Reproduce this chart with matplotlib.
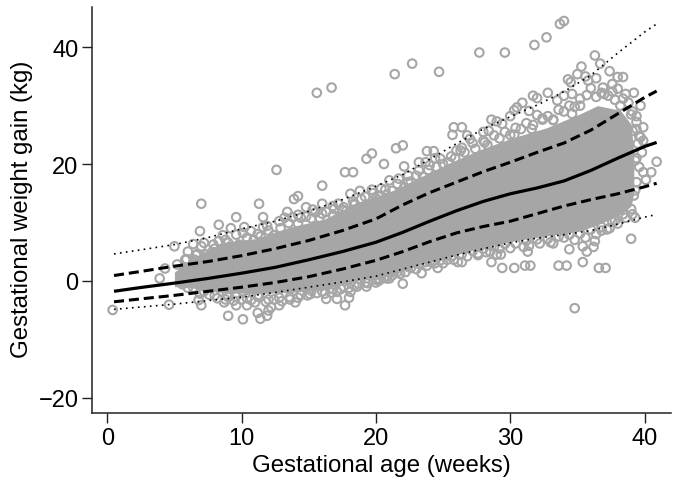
import matplotlib
matplotlib.use("Agg")
import matplotlib.pyplot as plt

# gestational age (weeks) vs weight gain (kg)
fit_x = [0.5, 2.5, 5, 7.5, 10, 12.5, 15, 17.5, 20, 22, 24, 26, 28, 30, 32, 34, 36, 38, 40, 40.9]
mean_y = [-1.8, -1.15, -0.4, 0.4, 1.3, 2.3, 3.6, 5.0, 6.6, 8.3, 10.2, 12.0, 13.6, 14.9, 15.9, 17.1, 18.9, 21, 23, 23.7]
hi_y = [0.9, 1.6, 2.5, 3.3, 4.3, 5.5, 6.9, 8.6, 10.6, 13, 15.1, 16.9, 18.7, 20.3, 22, 23.6, 25.8, 28.6, 31.4, 32.5]
lo_y = [-3.6, -3.1, -2.5, -1.8, -1.1, -0.3, 0.7, 2, 3.5, 5.0, 6.7, 8.2, 9.3, 10.2, 11.5, 12.8, 13.9, 14.9, 16.1, 16.7]
top_y = [4.6, 5.3, 6.2, 7.4, 8.9, 10.2, 11.9, 13.9, 16.2, 18.2, 20.8, 23.5, 26, 28.1, 30.1, 32.4, 35.2, 39, 42.6, 44]

bot_x = [0.5, 5, 10, 12.5, 15, 17.5, 20, 22, 24, 26, 28, 30, 32, 34, 36, 38, 40, 40.6]
bot_y = [-4.9, -4, -2.8, -2, -1.1, -0.2, 0.8, 2, 3.2, 4.4, 5.5, 6.5, 7.3, 7.9, 8.6, 9.7, 10.9, 11.2]

# solid part of the point cloud
core_x = [5, 6.2, 8.6, 11, 13.6, 16.1, 18.6, 21, 22.8, 25.3, 27.8, 30.2, 32.7, 35.2, 36.5, 38.2, 39.0, 39.2]
core_hi = [1.5, 3.7, 6.6, 7.2, 9.2, 10.5, 13.4, 15.2, 17.2, 20, 22.5, 24.5, 26.2, 28.6, 30.0, 29.2, 26.8, 22]
core_lo = [-1, -1.2, -2, -2.2, -2, -1.5, 0, 0.9, 2.4, 4, 5.6, 6.8, 7.7, 8.5, 9.6, 11.3, 12.8, 15]

# single points around the cloud
out_x = [15.6, 16.7, 12.6, 7.0, 11.3, 9.6, 11.6, 13.9, 14.2, 16.0, 13.4, 14.8, 16.0, 14.2, 15.5,
         17.7, 18.3, 19.3, 19.7, 20.6, 18.1, 18.8, 19.7, 20.4, 18.4, 17.5, 16.8,
         21.4, 22.7, 24.7, 27.7, 29.6, 31.8, 32.7, 33.7, 34.0, 36.3, 36.7, 37.4, 35.3,
         35.0, 34.3, 34.5, 35.6, 36.4, 35.8, 38.0, 38.4, 36.9, 37.6, 38.0, 39.2, 38.6, 37.3,
         39.7, 39.4, 39.9, 39.1, 39.7, 39.9, 39.8, 40.9, 40.5, 40.1, 39.3, 39.4, 39.9, 39.2, 39.0,
         32.8, 31.7, 32.0, 30.9, 30.5, 30.3, 30.0, 31.4, 28.6, 29.0, 29.4,
         25.8, 26.4, 25.7, 26.8, 27.0, 28.0, 28.4, 30.3, 31.7, 32.4, 33.2, 34.6, 35.2,
         34.0, 34.6, 33.5, 21.5, 22.0, 22.1, 23.8, 24.3, 23.2, 23.7, 24.4, 21.0, 26.0, 26.3, 25.4, 28.1, 22.4,
         34.8, 39.0, 39.3, 22.0, 23.4, 24.6, 22.6, 26.4, 26.1, 28.6, 29.4, 30.3, 31.1, 31.5, 33.6, 34.2,
         35.4, 36.6, 37.1, 34.4, 35.7, 36.2, 36.3, 35.4, 31.3, 31.4, 29.0, 29.3, 27.6, 28.2, 25.3, 23.7, 24.2,
         20.8, 21.0, 20.3, 21.4, 33.2, 34.0, 37.4, 36.8, 37.8,
         0.4, 4.6, 3.9, 4.3, 5.0, 6.9, 6.4, 7.0, 6.7, 5.9, 8.3, 9.2, 8.3, 10.1, 10.7, 11.6, 7.8,
         6.8, 7.0, 8.7, 9.0, 9.6, 9.0, 10.1, 10.4, 11.0, 11.2, 11.4, 11.9, 12.0, 12.2, 12.8, 14.0,
         15.1, 16.3, 17.1, 17.7, 18.0, 17.1, 18.1, 18.6, 19.3, 20.2]
out_y = [32.2, 33.1, 19.0, 13.2, 13.2, 10.9, 10.9, 14.0, 14.5, 16.3, 11.8, 12.6, 13.2, 11.3, 11.7,
         18.6, 18.6, 20.9, 21.8, 20.0, 14.9, 15.4, 15.6, 15.8, 13.2, 12.2, 12.8,
         35.4, 37.2, 35.8, 39.1, 39.1, 40.4, 41.7, 44.0, 44.5, 38.6, 37.2, 35.9, 36.7,
         35.4, 34.5, 34.0, 35.0, 34.7, 34.3, 34.9, 34.9, 33.1, 33.7, 32.9, 32.2, 32.0, 31.7,
         30.0, 28.2, 26.3, 25.7, 24.6, 24.0, 22.0, 20.4, 18.6, 17.3, 20.6, 16.9, 18.6, 14.6, 12.3,
         32.2, 31.7, 31.3, 30.5, 29.7, 29.2, 28.2, 29.1, 27.6, 27.3, 26.9,
         26.3, 26.3, 25.0, 24.9, 24.3, 25.5, 25.7, 25.0, 26.7, 27.6, 27.6, 28.6, 30.0,
         31.7, 32.0, 30.9, 22.7, 23.2, 19.6, 22.2, 22.2, 20.3, 20.3, 21.0, 17.2, 22.3, 22.3, 20.3, 23.7, 16.9,
         -4.7, 7.2, 10.8, -0.5, 1.3, 2.2, 2.2, 3.2, 3.2, 3.2, 2.2, 2.2, 2.6, 2.6, 2.6, 2.6,
         3.2, 2.2, 2.2, 5.4, 5.0, 5.8, 6.8, 5.9, 5.0, 6.0, 4.5, 4.5, 4.7, 4.9, 3.6, 3.2, 3.2,
         0.4, 0.4, 0.2, 1.7, 6.4, 7.4, 9.0, 8.6, 10.3,
         -5.0, -4.1, 0.4, 2.1, 5.9, 8.5, 6.3, 5.9, 4.6, 3.7, 9.6, 9.0, 6.8, 8.2, 8.5, 9.2, 4.9,
         -3.3, -4.2, -3.7, -2.8, -4.2, -6.0, -6.6, -4.2, -3.7, -5.5, -6.5, -6.0, -5.1, -4.5, -4.2, -3.7,
         -2.3, -3.1, -3.1, -4.2, -2.9, -1.9, -1.9, -1.0, -1.0, 0.0]

# points hugging the edge of the solid part
edge_x = [5.2, 5.8, 6.6, 7.2, 7.9, 8.8, 9.6, 10.4, 11.2, 12.0, 12.8, 13.5, 14.4, 15.2, 16.0, 16.8, 17.6, 18.4, 19.2, 20.0,
          20.8, 21.6, 22.4, 23.2, 24.0, 24.8, 25.6, 26.4, 27.2, 28.0, 28.8, 29.6, 30.4, 31.2, 32.0, 32.8, 33.6, 34.4, 35.2, 36.0, 36.8, 37.6, 38.4, 39.0,
          5.6, 6.4, 7.2, 8.0, 8.8, 9.6, 10.4, 11.2, 12.0, 12.8, 13.6, 14.4, 15.2, 16.0, 16.8, 17.6, 18.4, 19.2, 20.0, 20.8,
          21.6, 22.4, 23.2, 24.0, 24.8, 25.6, 26.4, 27.2, 28.0, 28.8, 29.6, 30.4, 31.2, 32.0, 32.8, 33.6, 34.4, 35.2, 36.0, 36.8, 37.6, 38.4,
          39.4, 39.5, 39.4, 39.6, 39.3,
          6.0, 6.5, 7.4, 8.0, 8.6, 9.0, 9.8, 10.2, 10.9, 11.4, 11.9, 12.4, 12.9, 13.2, 13.8, 14.2, 14.8, 15.3, 15.8, 16.3, 16.9, 17.2, 17.8,
          18.3, 18.9, 19.3, 19.8, 20.3, 20.7, 21.2, 21.7, 22.1, 22.6, 23.0, 23.5, 23.9, 24.5, 25.0, 25.9, 26.6, 27.4, 28.3, 29.2, 30.0, 30.8,
          31.6, 32.4, 33.2, 34.0, 34.8, 35.7, 36.4, 37.0, 37.8, 38.2, 38.8, 39.1, 39.4, 39.6,
          6.0, 6.9, 7.6, 8.2, 8.9, 9.4, 10.0, 10.7, 11.3, 11.8, 12.4, 13.0, 13.6, 14.2, 14.9, 15.6, 16.2, 16.7, 17.4, 18.0, 18.7, 19.4, 20.0,
          20.6, 21.2, 21.8, 22.2, 23.0, 23.8, 24.4, 25.0, 25.8, 26.8, 27.6, 28.5, 29.2, 30.0, 31.0, 32.2, 33.0, 34.8, 35.6, 36.4, 37.2, 38.0, 38.6, 39.1]
edge_y = [2.8, 3.6, 4.4, 6.5, 6.2, 7.0, 7.9, 7.4, 8.0, 8.6, 10.2, 9.9, 10.8, 10.7, 11.5, 11.2, 12.6, 13.0, 14.4, 14.1,
          14.7, 16.6, 18.0, 18.9, 19.8, 20.9, 21.3, 22.8, 23.6, 24.0, 24.9, 25.5, 26.2, 27.0, 28.4, 28.2, 29.3, 30.0, 31.2, 33.0, 32.2, 32.4, 31.2, 28.5,
          -0.6, -1.2, -1.8, -2.5, -3.2, -2.7, -3.0, -2.5, -3.2, -2.9, -2.8, -2.4, -1.7, -1.8, -1.4, -1.0, -0.8, -0.3, 0.2, 0.8,
          1.5, 2.4, 2.9, 3.3, 3.5, 4.2, 4.6, 5.1, 5.5, 5.9, 6.3, 6.4, 6.9, 7.1, 7.2, 7.6, 7.9, 8.1, 8.8, 9.2, 10.1, 11.4,
          26.0, 23.5, 21.0, 19.5, 15.5,
          5.0, 3.6, 4.5, 5.5, 7.8, 6.5, 6.2, 9.2, 7.0, 7.6, 9.4, 7.8, 9.0, 10.8, 10.9, 9.8, 11.0, 12.2, 10.8, 11.8, 12.3, 13.2, 12.0,
          13.6, 14.0, 13.0, 15.0, 14.6, 15.6, 15.4, 17.5, 16.0, 17.0, 18.0, 17.8, 19.0, 19.5, 20.0, 21.0, 22.0, 22.6, 23.3, 24.4, 25.0, 26.0,
          26.0, 27.8, 27.5, 29.0, 29.8, 31.8, 31.5, 32.0, 31.0, 30.0, 30.5, 29.0, 27.2, 24.8,
          -1.2, -2.2, -2.4, -3.0, -2.4, -3.4, -3.2, -3.3, -2.8, -3.6, -3.2, -3.5, -3.2, -2.9, -2.5, -2.1, -2.2, -2.0, -1.4, -1.2, -0.5, -0.4, -0.3,
          0.5, 0.9, 1.2, 1.5, 2.0, 2.6, 3.0, 3.0, 3.6, 4.2, 4.4, 5.0, 5.5, 5.6, 5.8, 6.4, 6.6, 7.0, 7.4, 8.0, 8.8, 9.8, 10.8, 11.4]

# tick labels
x_ticks = [0, 10, 20, 30, 40]
y_ticks = [-20, 0, 20, 40]
y_labels = ["\u221220", "0", "20", "40"]

plt.rcParams["font.family"] = ["Liberation Sans", "DejaVu Sans"]
fig = plt.figure(figsize=(6.79, 4.85), dpi=100)
ax = fig.add_axes([92.5 / 679, 1 - 413.7 / 485, (671 - 92.5) / 679, (413.7 - 8) / 485])

gray = "#a6a6a6"
ax.fill_between(core_x, core_lo, core_hi, color=gray, lw=0, zorder=1)
ax.scatter(out_x + edge_x, out_y + edge_y, s=38, facecolors="none", edgecolors=gray, linewidths=1.5, zorder=2, clip_on=False)

ax.plot(fit_x, mean_y, color="black", lw=2.3, zorder=4, solid_capstyle="butt")
ax.plot(fit_x, hi_y, color="black", lw=2.2, dashes=(3.3, 1.6), zorder=4)
ax.plot(fit_x, lo_y, color="black", lw=2.2, dashes=(3.3, 1.6), zorder=4)
ax.plot(fit_x, top_y, color="black", lw=1.2, dashes=(1, 2.6), zorder=3)
ax.plot(bot_x, bot_y, color="black", lw=1.2, dashes=(1, 2.6), zorder=3)

ax.set_xlim(-1.1, 41.97)
ax.set_ylim(-22.6, 46.9)
ax.set_xticks(x_ticks)
ax.set_yticks(y_ticks)
ax.set_yticklabels(y_labels)
ax.tick_params(length=7, width=1, labelsize=17, color="#222222", pad=3)
ax.set_xlabel("Gestational age (weeks)", fontsize=17.3, labelpad=4)
ax.set_ylabel("Gestational weight gain (kg)", fontsize=17.3, labelpad=4, y=0.505)
ax.spines["top"].set_visible(False)
ax.spines["right"].set_visible(False)
ax.spines["left"].set_linewidth(1.1)
ax.spines["bottom"].set_linewidth(1.1)
ax.spines["left"].set_color("#222222")
ax.spines["bottom"].set_color("#222222")

fig.savefig("out.png", dpi=100)
